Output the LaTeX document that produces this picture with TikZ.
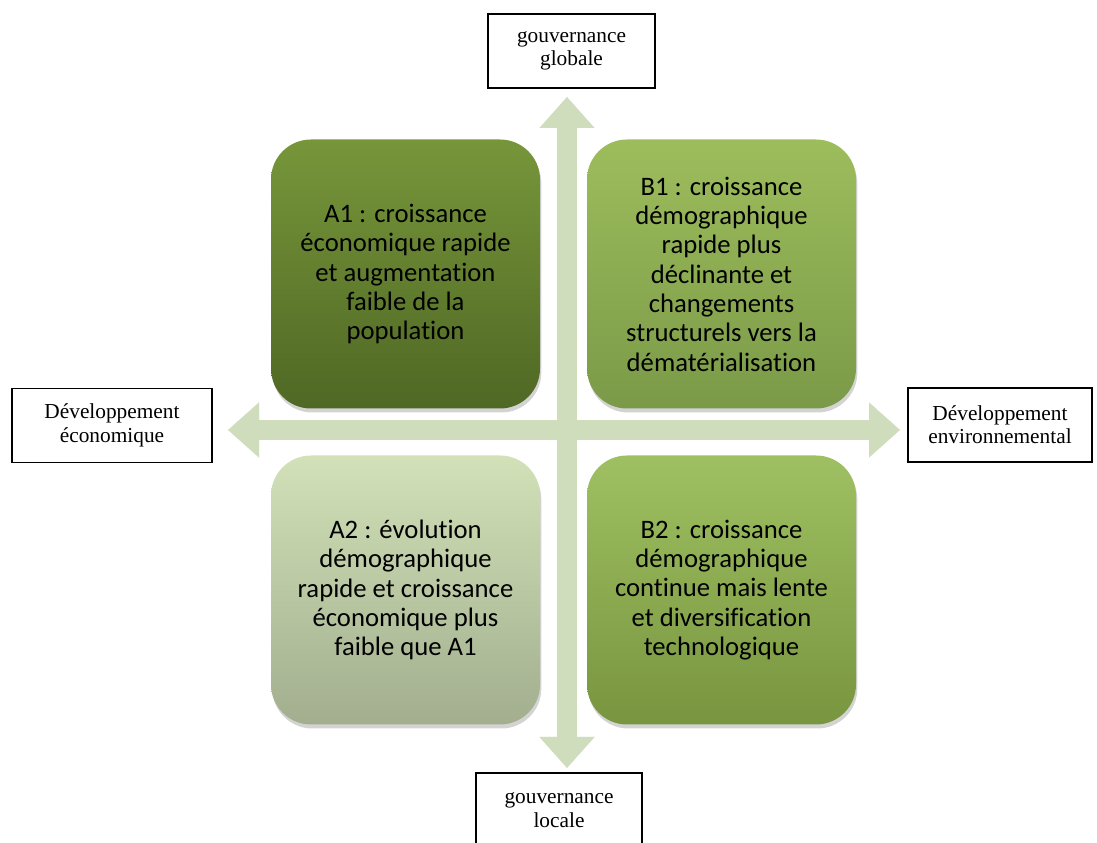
\documentclass[tikz,border=0pt]{standalone}
\usepackage{fontspec}
\setmainfont{Liberation Serif}
\newfontfamily\scenfont[Ligatures=CommonOff,Contextuals=NoAlternate]{Carlito}
\usepackage{tikz}
\usetikzlibrary{arrows.meta,shadows,positioning}

\definecolor{axegreen}{HTML}{CFDDBC}
\definecolor{aonetop}{HTML}{77963A}
\definecolor{aonebot}{HTML}{4F6824}
\definecolor{bonetop}{HTML}{9DBD5C}
\definecolor{bonebot}{HTML}{7B9A48}
\definecolor{atwotop}{HTML}{D2E1B8}
\definecolor{atwobot}{HTML}{A2AE8E}
\definecolor{btwotop}{HTML}{9FC062}
\definecolor{btwobot}{HTML}{78953F}

\begin{document}
\begin{tikzpicture}[x=0.75pt,y=0.75pt,
    scen/.style={rounded corners=30pt, minimum width=201.75pt, minimum height=201.75pt,
        inner sep=0pt, align=center, font=\scenfont\fontsize{20}{22}\selectfont,
        drop shadow={shadow xshift=1pt, shadow yshift=-3pt, opacity=0.35}},
    lab/.style={draw, line width=1pt, minimum height=55.5pt, inner sep=0pt,
        align=center, font=\fontsize{16}{17.5}\selectfont},
    axetip/.tip={Triangle[length=23.25pt, width=39.75pt]},
    axe/.style={draw=axegreen, line width=15pt, axetip-axetip},
    axeshadow/.style={axe, draw=black, opacity=0.12, shift={(1.5,-2.5)}}]
    \useasboundingbox (0,0) rectangle (1097,843);

    % Labels
    \node[lab, minimum width=125.25pt] (glob) at (571.5,792) {gouvernance\\globale};
    \node[lab, minimum width=124.5pt] (loc) at (559,33) {gouvernance\\locale};
    \node[lab, minimum width=150pt] (eco) at (112,417.5) {Développement\\économique};
    \node[lab, minimum width=138pt] (env) at (1000,418) {Développement\\environnemental};

    % Axes
    \coordinate (ntip) at (567,746);
    \coordinate (stip) at (567,75);
    \coordinate (wtip) at (228,413);
    \coordinate (etip) at (900,413);
    \draw[axeshadow] (stip) -- (ntip);
    \draw[axeshadow] (wtip) -- (etip);
    \draw[axe] (stip) -- (ntip);
    \draw[axe] (wtip) -- (etip);

    % Scenarios
    \node[scen, top color=aonetop, bottom color=aonebot] (aone) at (405.5,569)
        {A1 : croissance\\économique rapide\\et augmentation\\faible de la\\population};
    \node[scen, top color=bonetop, bottom color=bonebot] (bone) at (721.5,569)
        {B1 : croissance\\démographique\\rapide plus\\déclinante et\\changements\\structurels vers la\\dématérialisation};
    \node[scen, top color=atwotop, bottom color=atwobot] (atwo) at (405.5,253)
        {A2 : évolution\\démographique\\rapide et croissance\\économique plus\\faible que A1};
    \node[scen, top color=btwotop, bottom color=btwobot] (btwo) at (721.5,253)
        {B2 : croissance\\démographique\\continue mais lente\\et diversification\\technologique};
\end{tikzpicture}
\end{document}
